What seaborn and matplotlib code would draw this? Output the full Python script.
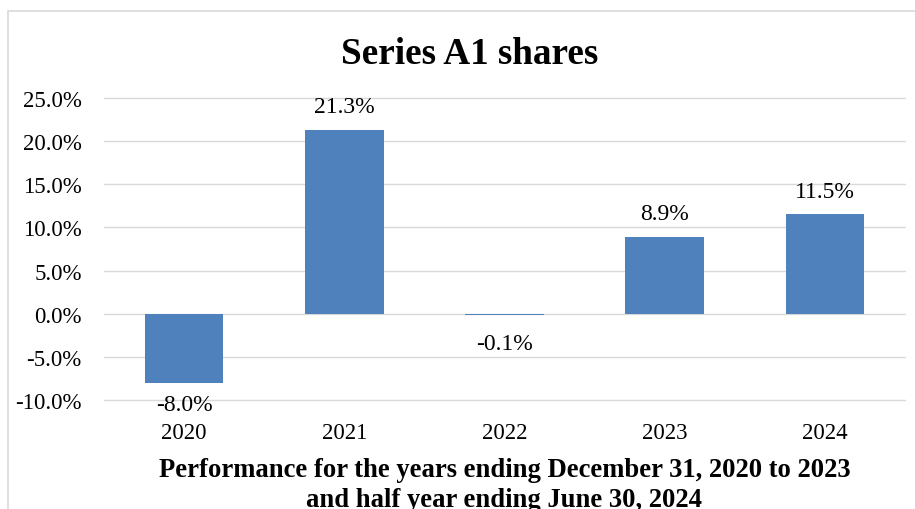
import matplotlib
matplotlib.use("Agg")
import matplotlib.pyplot as plt
import seaborn as sns
import pandas as pd
from matplotlib.patches import Rectangle
from matplotlib.ticker import FuncFormatter

years = ["2020", "2021", "2022", "2023", "2024"]
returns = [-8.0, 21.3, -0.1, 8.9, 11.5]
title = "Series A1 shares"
xlabel = "Performance for the years ending December 31, 2020 to 2023\nand half year ending June 30, 2024"

sns.set_theme(style="white")
plt.rcParams["font.family"] = ["Liberation Serif", "DejaVu Serif"]
plt.rcParams["text.color"] = "black"
plt.rcParams["axes.labelcolor"] = "black"
plt.rcParams["xtick.color"] = "black"
plt.rcParams["ytick.color"] = "black"

df = pd.DataFrame({"year": years, "ret": returns})

fig = plt.figure(figsize=(9.15, 5.10), dpi=100)
ax = fig.add_axes([104/915, 1-401/510, (905-104)/915, (401-99)/510])

# figure frame
fig.patches.append(Rectangle((8/915, -0.1), 1.2, 1.1 - 12/510, transform=fig.transFigure,
                             fill=False, edgecolor="#D9D9D9", linewidth=1.2, zorder=0))

sns.barplot(data=df, x="year", y="ret", color="#4F81BD", saturation=1, width=0.49,
            linewidth=0, edgecolor="none", ax=ax, zorder=3)

ax.set_ylim(-10, 25)
ax.set_yticks([-10, -5, 0, 5, 10, 15, 20, 25])
ax.yaxis.set_major_formatter(FuncFormatter(lambda v, p: f"{v:.1f}%"))
ax.grid(axis="y", color="#D9D9D9", linewidth=1.0, zorder=0)
for gl in ax.get_ygridlines():
    gl.set_clip_on(False)
ax.set_axisbelow(True)
for s in ax.spines.values():
    s.set_visible(False)
ax.tick_params(axis="y", length=0, pad=16, labelsize=16.5)
ax.tick_params(axis="x", length=0, pad=16, labelsize=16.5)

# label offsets (points): small negative values are pushed further from the axis
for i, v in enumerate(returns):
    if v >= 0:
        ax.annotate(f"{v:.1f}%", (i, v), xytext=(0, 9), textcoords="offset points",
                    ha="center", va="bottom", fontsize=17, color="black")
    else:
        off = -13.5 if abs(v) < 1 else -8
        ax.annotate(f"{v:.1f}%", (i, v), xytext=(0, off), textcoords="offset points",
                    ha="center", va="top", fontsize=17, color="black")

ax.set_xlabel(xlabel, fontsize=19.2, fontweight="bold", labelpad=10, linespacing=1.25,
              color="black")
ax.set_ylabel("")
fig.text(470/915, 1-55/510, title, ha="center", va="center", fontsize=26.7,
         fontweight="bold", color="black")

fig.savefig("out.png", dpi=100)
